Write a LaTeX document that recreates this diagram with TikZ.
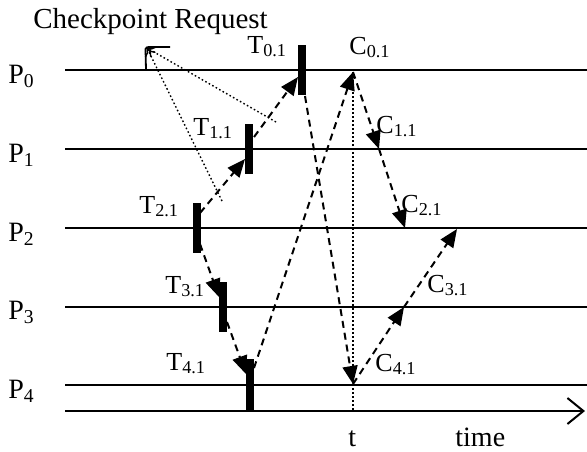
\documentclass[tikz,border=0pt]{standalone}
\usepackage{fontspec}
\setmainfont{Liberation Serif}
\usetikzlibrary{arrows.meta}
\begin{document}
\begin{tikzpicture}[x=0.5pt,y=-0.5pt,
  procline/.style={line width=1pt},
  bar/.style={fill=black,draw=none,inner sep=0pt,minimum width=4pt,minimum height=25pt},
  msg/.style={line width=1pt,dash pattern=on 3.5pt off 2.5pt,-{Triangle[length=9pt,width=7.5pt]}},
  req/.style={line width=0.7pt,dash pattern=on 0.8pt off 1.2pt,-{To[length=4pt,width=6pt]}},
  lbl/.style={anchor=base west,inner sep=0pt,font=\fontsize{13}{15}\selectfont},
  plbl/.style={anchor=base west,inner sep=0pt,font=\fontsize{14}{16}\selectfont}
]
\useasboundingbox (0,0) rectangle (587,451);

% process lines
\foreach \y/\n in {70/0,149/1,228/2,306.5/3,385/4}{
  \coordinate (L\n) at (65,\y);
  \coordinate (R\n) at (587,\y);
  \draw[procline] (L\n) -- (R\n);
}
\coordinate (tA) at (65,411);
\coordinate (tB) at (585,411);
\draw[procline,-{Straight Barb[length=8pt,width=13pt,line width=1pt]}] (tA) -- (tB);

% labels of processes
\node[plbl] (p0) at (8,83) {P\textsubscript{0}};
\node[plbl] (p1) at (8,162) {P\textsubscript{1}};
\node[plbl] (p2) at (8,241) {P\textsubscript{2}};
\node[plbl] (p3) at (8,319) {P\textsubscript{3}};
\node[plbl] (p4) at (8,398) {P\textsubscript{4}};

\node[anchor=base west,inner sep=0pt,font=\fontsize{14.5}{17}\selectfont] (cr) at (33,28) {Checkpoint Request};

% checkpoint bars
\node[bar] (b0) at (302,70) {};
\node[bar] (b1) at (249,148.5) {};
\node[bar] (b2) at (196.5,227.5) {};
\node[bar] (b3) at (223,306.5) {};
\node[bar,minimum height=26.5pt] (b4) at (249.5,385.5) {};

% T labels
\node[lbl] (t0) at (247,53) {T\textsubscript{0.1}};
\node[lbl] (t1) at (193,135) {T\textsubscript{1.1}};
\node[lbl] (t2) at (139,213) {T\textsubscript{2.1}};
\node[lbl] (t3) at (165,293) {T\textsubscript{3.1}};
\node[lbl] (t4) at (166,370) {T\textsubscript{4.1}};

% C labels
\node[lbl] (c0) at (349,54) {C\textsubscript{0.1}};
\node[lbl] (c1) at (376,133) {C\textsubscript{1.1}};
\node[lbl] (c2) at (401,212) {C\textsubscript{2.1}};
\node[lbl] (c3) at (427,292) {C\textsubscript{3.1}};
\node[lbl] (c4) at (375,371) {C\textsubscript{4.1}};

\node[plbl] (tt) at (348,446) {t};
\node[plbl] (time) at (455,446) {time};

% checkpoint request marker
\coordinate (crTip) at (147,48);
\draw[line width=0.9pt] (L0 -| crTip) ++(-1,0) coordinate (crBase) -- (145.5,49) to[out=80,in=180] (149,47) -- (170,47) coordinate (crEnd);
\coordinate (rq1) at (276,122);
\coordinate (rq2) at (222,201);
\draw[req] (rq1) -- (crTip);
\draw[req] (rq2) -- (crTip);

% T messages
\coordinate (s21) at (200,213);
\coordinate (e21) at (245,159);
\coordinate (s10) at (254,137);
\coordinate (e10) at (298,77);
\coordinate (s23) at (200,244);
\coordinate (e23) at (219,297);
\coordinate (s34) at (227,322);
\coordinate (e34) at (246,374);
\draw[msg] (s21) -- (e21);
\draw[msg] (s10) -- (e10);
\draw[msg] (s23) -- (e23);
\draw[msg] (s34) -- (e34);

% crossing messages
\coordinate (s0c) at (305,96);
\coordinate (C4) at (353,384);
\coordinate (s4c) at (254,368);
\coordinate (C0) at (353,72);
\draw[msg] (s0c) -- (C4);
\draw[msg] (s4c) -- (C0);

% C messages
\coordinate (C1) at (379,149);
\coordinate (C2) at (405,228);
\coordinate (C3) at (404,307);
\coordinate (C2b) at (457,229);
\draw[msg] (C0) -- (C1);
\draw[msg] (C1) -- (C2);
\draw[msg] (C4) -- (C3);
\draw[msg] (C3) -- (C2b);

% time t marker
\draw[line width=0.6pt,dash pattern=on 0.8pt off 1.2pt] (C0) -- (C0 |- tA);
\end{tikzpicture}
\end{document}
